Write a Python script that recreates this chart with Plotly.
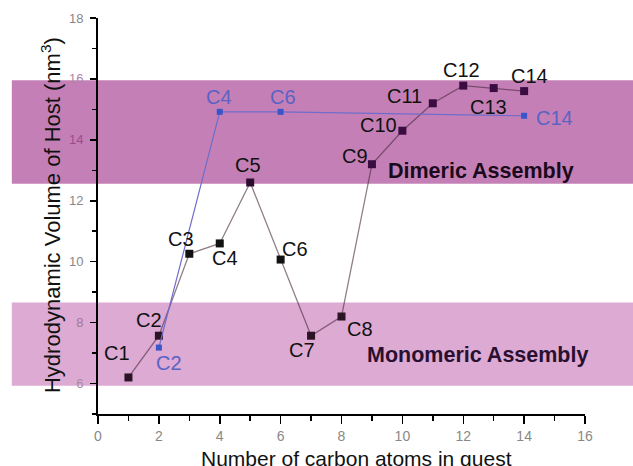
import plotly.graph_objects as go

# ---- data ----
carbons = [1, 2, 3, 4, 5, 6, 7, 8, 9, 10, 11, 12, 13, 14]
volume = [6.2, 7.57, 10.26, 10.6, 12.6, 10.07, 7.57, 8.2, 13.2, 14.3, 15.2, 15.78, 15.7, 15.6]
labels = ["C1", "C2", "C3", "C4", "C5", "C6", "C7", "C8", "C9", "C10", "C11", "C12", "C13", "C14"]

blue_carbons = [2, 4, 6, 14]
blue_volume = [7.18, 14.92, 14.92, 14.79]
blue_labels = ["C2", "C4", "C6", "C14"]

x_ticks = [0, 2, 4, 6, 8, 10, 12, 14, 16]
y_ticks = [6, 8, 10, 12, 14, 16, 18]

dimeric_band = [12.56, 15.96]
monomeric_band = [5.93, 8.66]

# ---- styles ----
FONT = "Liberation Sans, Arial, sans-serif"
marker_cols = ["#2a1426", "#2a1426", "#111111", "#111111", "#2d0c30", "#111111", "#2a1426",
               "#2a1426", "#3a0c42", "#3a0c42", "#3a0c42", "#3a0c42", "#3a0c42", "#3a0c42"]
label_off = [(-11, 24), (-10, 16), (-8, 15), (5, -15), (-2, 17), (14, 11), (-9, -14),
             (18, -12), (-17, 8), (-24, 6), (-28, 7), (-2, 16), (-5, -19), (5, 15)]
blue_off = [(10, -15), (-1, 15), (2, 15), (30, -2)]
ytick_cols = {6: "#a88aa2", 8: "#a07898", 10: "#888888", 12: "#888888",
              14: "#9a4a90", 16: "#ae86a8", 18: "#888888"}

fig = go.Figure()

fig.add_trace(go.Scatter(
    x=carbons, y=volume, mode="lines+markers",
    line=dict(color="rgba(70,40,60,0.6)", width=1.3),
    marker=dict(symbol="square", size=8, color=marker_cols, line=dict(width=0)),
    showlegend=False, cliponaxis=False, hoverinfo="skip"))

fig.add_trace(go.Scatter(
    x=blue_carbons, y=blue_volume, mode="lines+markers",
    line=dict(color="#6f6ccc", width=1.2),
    marker=dict(symbol="square", size=6, color="#3a55c8", line=dict(width=0)),
    showlegend=False, cliponaxis=False, hoverinfo="skip"))

shapes = [
    dict(type="rect", xref="paper", yref="y", x0=-0.177, x1=1.1,
         y0=dimeric_band[0], y1=dimeric_band[1], fillcolor="#c480b6",
         line=dict(width=0), layer="below"),
    dict(type="rect", xref="paper", yref="y", x0=-0.177, x1=1.1,
         y0=monomeric_band[0], y1=monomeric_band[1], fillcolor="#dcaad2",
         line=dict(width=0), layer="below"),
]

annotations = []
for x, y, t, (dx, dy) in zip(carbons, volume, labels, label_off):
    annotations.append(dict(x=x, y=y, text=t, showarrow=False, xshift=dx, yshift=dy,
                            font=dict(family=FONT, size=20, color="#111111")))
for x, y, t, (dx, dy) in zip(blue_carbons, blue_volume, blue_labels, blue_off):
    annotations.append(dict(x=x, y=y, text=t, showarrow=False, xshift=dx, yshift=dy,
                            font=dict(family=FONT, size=20, color="#5a62c4")))

annotations += [
    dict(x=12.57, y=12.98, text="<b>Dimeric Assembly</b>", showarrow=False,
         font=dict(family=FONT, size=21.5, color="#1a0a1c")),
    dict(x=12.47, y=6.95, text="<b>Monomeric Assembly</b>", showarrow=False,
         font=dict(family=FONT, size=21.5, color="#2a1030")),
    dict(xref="paper", yref="paper", x=0.5298, y=-0.1136, text="Number of carbon atoms in guest",
         showarrow=False, xanchor="center", yanchor="middle",
         font=dict(family=FONT, size=21, color="#111111")),
    dict(xref="paper", yref="paper", x=-0.0965, y=0.5025, textangle=-90,
         text="Hydrodynamic Volume of Host (nm<sup>3</sup>)",
         showarrow=False, xanchor="center", yanchor="middle",
         font=dict(family=FONT, size=22, color="#111111")),
]

fig.update_layout(
    width=633, height=466,
    margin=dict(l=98, r=48, t=18, b=52),
    paper_bgcolor="white", plot_bgcolor="rgba(0,0,0,0)",
    shapes=shapes, annotations=annotations, hovermode=False,
    xaxis=dict(range=[0, 16], tickvals=x_ticks, ticktext=[str(v) for v in x_ticks],
               showgrid=False, zeroline=False, showline=True, linecolor="black", linewidth=2,
               ticks="outside", ticklen=8, tickwidth=1.5, tickcolor="black",
               ticklabelstandoff=0,
               tickfont=dict(family=FONT, size=14, color="#888888"),
               minor=dict(ticks="outside", ticklen=5, tickwidth=1.5, tickcolor="black", dtick=1,
                          showgrid=False)),
    yaxis=dict(range=[5, 18], tickvals=y_ticks,
               ticktext=[f'<span style="color:{ytick_cols[v]}">{v}</span>' for v in y_ticks],
               showgrid=False, zeroline=False, showline=True, linecolor="black", linewidth=2,
               ticks="outside", ticklen=6, tickwidth=1.5, tickcolor="black",
               ticklabelstandoff=4,
               tickfont=dict(family=FONT, size=13, color="#888888"),
               minor=dict(ticks="outside", ticklen=4, tickwidth=1.5, tickcolor="black", dtick=1,
                          showgrid=False)),
)

fig.write_html("out.html", config={"displayModeBar": False, "staticPlot": True},
               post_script="document.body.style.margin='0';document.body.style.overflow='hidden';")
